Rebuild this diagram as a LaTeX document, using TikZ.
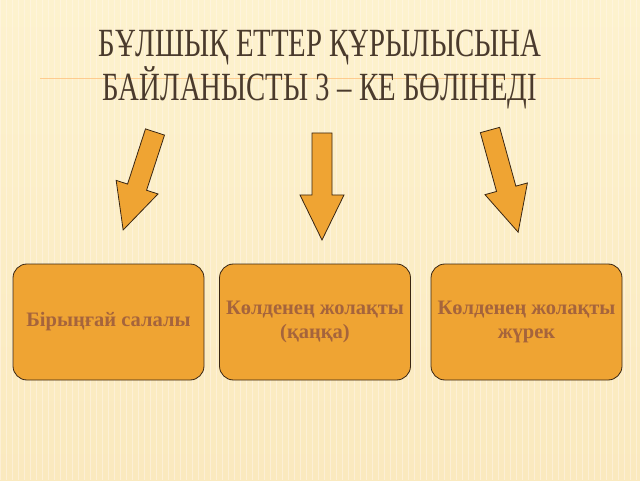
\documentclass[tikz,border=0pt]{standalone}
\usepackage{fontspec}
\setmainfont{Liberation Serif}
\begin{document}
\begin{tikzpicture}[x=1pt,y=1pt,
  box/.style={draw=black!70!brown, line width=0.8pt, fill=boxfill, rounded corners=14pt, minimum width=191pt, minimum height=116pt, align=center, inner sep=1pt, font=\bfseries\fontsize{20.5}{24}\selectfont, text=boxtext},
  arr/.style={draw=black!70!brown, line width=0.8pt, fill=boxfill}]
\definecolor{boxfill}{HTML}{EFA433}
\definecolor{boxtext}{HTML}{A5643C}
\definecolor{titlec}{HTML}{4A3A2C}
\useasboundingbox (0,0) rectangle (640,480);
\shade[top color={rgb,255:red,253;green,242;blue,206}, bottom color={rgb,255:red,250;green,233;blue,190}] (0,0) rectangle (640,480);
\foreach \i in {0,6,...,640} \draw[white!70!orange!25, line width=0.4pt, opacity=0.5] (\i,0) -- (\i,480);
\draw[orange!60, line width=0.8pt, opacity=0.6] (40,402) -- (600,402);
\node[text=titlec, font=\fontsize{40}{44}\selectfont, align=center, xscale=0.72] (title) at (320,410) {БҰЛШЫҚ ЕТТЕР ҚҰРЫЛЫСЫНА\\БАЙЛАНЫСТЫ 3 – КЕ БӨЛІНЕДІ};
\node[box] (b1) at (108.5,158) {Бірыңғай салалы};
\node[box] (b2) at (315,158) {Көлденең жолақты\\(қаңқа)};
\node[box] (b3) at (526.5,158) {Көлденең жолақты\\жүрек};
\foreach \sx/\sy/\ang/\L in {155/348/-108/103, 322/347/-90/107, 490/350/-74.6/106}
  \draw[arr, shift={(\sx,\sy)}, rotate=\ang] (0,10) -- (\L-45,10) -- (\L-45,22) -- (\L,0) -- (\L-45,-22) -- (\L-45,-10) -- (0,-10) -- cycle;
\end{tikzpicture}
\end{document}
